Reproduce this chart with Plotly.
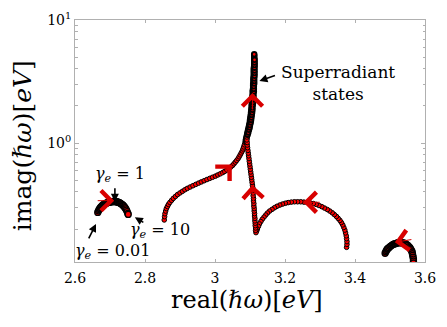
import math
import plotly.graph_objects as go

# ---------------- data ----------------
# small arc near 2.7 eV (gamma_e from 0.01 to 10)
arc1_x = [2.665, 2.667, 2.669, 2.671, 2.673, 2.675, 2.677, 2.679, 2.681, 2.683,
          2.685, 2.687, 2.689, 2.691, 2.693, 2.695, 2.697, 2.699, 2.701, 2.703,
          2.705, 2.707, 2.709, 2.711, 2.713, 2.715, 2.717, 2.719, 2.721, 2.723,
          2.725, 2.727, 2.729, 2.731, 2.733, 2.735, 2.737, 2.739, 2.741, 2.743,
          2.745, 2.747, 2.749, 2.751, 2.752]
arc1_y = [0.273, 0.281, 0.288, 0.294, 0.299, 0.304, 0.308, 0.312, 0.315, 0.318,
          0.320, 0.322, 0.324, 0.326, 0.328, 0.329, 0.330, 0.331, 0.332, 0.333,
          0.334, 0.334, 0.335, 0.335, 0.335, 0.334, 0.334, 0.333, 0.332, 0.331,
          0.329, 0.327, 0.325, 0.322, 0.319, 0.316, 0.312, 0.308, 0.303, 0.298,
          0.292, 0.285, 0.277, 0.268, 0.263]

# branch starting at 2.855 eV rising into the superradiant state
branch2_x = [2.855, 2.856, 2.857, 2.859, 2.861, 2.864, 2.867, 2.871, 2.876, 2.881,
             2.887, 2.893, 2.900, 2.907, 2.914, 2.921, 2.929, 2.937, 2.945, 2.953,
             2.961, 2.969, 2.977, 2.985, 2.993, 3.001, 3.008, 3.015, 3.022, 3.028,
             3.034, 3.040, 3.045, 3.050, 3.054, 3.058, 3.062, 3.066, 3.069, 3.072,
             3.075, 3.078, 3.080, 3.082, 3.084, 3.086, 3.088,
             3.088, 3.089, 3.090, 3.091, 3.092, 3.093, 3.094, 3.095, 3.096, 3.097,
             3.098, 3.099, 3.100, 3.100, 3.101, 3.102, 3.102, 3.103, 3.103, 3.104,
             3.104, 3.105, 3.105, 3.105, 3.106, 3.106, 3.107, 3.107, 3.107, 3.108,
             3.108, 3.108, 3.108, 3.109, 3.109, 3.109, 3.109, 3.110, 3.110, 3.110,
             3.110, 3.111, 3.111, 3.111, 3.111, 3.111, 3.111, 3.112, 3.112, 3.112,
             3.112, 3.112, 3.112, 3.112, 3.112, 3.112]
branch2_y = [0.237, 0.252, 0.266, 0.280, 0.293, 0.305, 0.317, 0.329, 0.342, 0.355,
             0.368, 0.381, 0.393, 0.405, 0.417, 0.428, 0.439, 0.450, 0.461, 0.472,
             0.483, 0.494, 0.505, 0.516, 0.527, 0.538, 0.550, 0.562, 0.575, 0.589,
             0.604, 0.620, 0.638, 0.657, 0.677, 0.699, 0.722, 0.747, 0.773, 0.801,
             0.831, 0.862, 0.895, 0.930, 0.968, 1.01, 1.03,
             1.05, 1.08, 1.11, 1.14, 1.18, 1.21, 1.25, 1.28, 1.32, 1.36,
             1.40, 1.44, 1.49, 1.53, 1.58, 1.62, 1.67, 1.72, 1.77, 1.83,
             1.88, 1.94, 2.00, 2.06, 2.12, 2.18, 2.25, 2.32, 2.39, 2.46,
             2.53, 2.61, 2.69, 2.77, 2.85, 2.94, 3.02, 3.11, 3.21, 3.30,
             3.40, 3.51, 3.61, 3.72, 3.83, 3.95, 4.07, 4.19, 4.31, 4.44,
             4.58, 4.71, 4.86, 5.00, 5.15, 5.26]

# arc between 3.12 and 3.38 eV, then the rising branch at 3.11 eV
branch3_x = [3.376, 3.377, 3.377, 3.376, 3.375, 3.373, 3.371, 3.368, 3.365, 3.361,
             3.357, 3.352, 3.347, 3.341, 3.335, 3.328, 3.321, 3.313, 3.305, 3.297,
             3.289, 3.281, 3.272, 3.263, 3.254, 3.245, 3.236, 3.227, 3.218, 3.209,
             3.201, 3.193, 3.185, 3.177, 3.170, 3.163, 3.156, 3.150, 3.145, 3.140,
             3.135, 3.131, 3.127, 3.124, 3.121, 3.119, 3.117,
             3.116, 3.116, 3.115, 3.115, 3.114, 3.114, 3.113, 3.113, 3.112, 3.112,
             3.111, 3.111, 3.110, 3.110, 3.109, 3.109, 3.108, 3.108, 3.107, 3.106,
             3.105, 3.104, 3.103, 3.102, 3.101, 3.100, 3.099, 3.098, 3.097, 3.096,
             3.095, 3.094, 3.093, 3.092, 3.092, 3.091, 3.091,
             3.093, 3.095, 3.097, 3.099, 3.100, 3.102, 3.103, 3.104, 3.105, 3.106,
             3.107, 3.107, 3.108, 3.109, 3.109, 3.110, 3.110, 3.111, 3.111, 3.111,
             3.112, 3.112, 3.112, 3.113, 3.113, 3.113, 3.113, 3.113, 3.113, 3.113]
branch3_y = [0.142, 0.150, 0.158, 0.167, 0.176, 0.186, 0.196, 0.206, 0.216, 0.226,
             0.235, 0.244, 0.253, 0.262, 0.271, 0.280, 0.288, 0.296, 0.304, 0.311,
             0.317, 0.322, 0.326, 0.329, 0.331, 0.333, 0.333, 0.333, 0.331, 0.328,
             0.324, 0.319, 0.313, 0.306, 0.298, 0.289, 0.280, 0.270, 0.260, 0.250,
             0.240, 0.230, 0.220, 0.210, 0.200, 0.193, 0.187,
             0.195, 0.204, 0.213, 0.223, 0.233, 0.244, 0.255, 0.267, 0.280, 0.293,
             0.307, 0.322, 0.338, 0.355, 0.373, 0.392, 0.412, 0.433, 0.455, 0.478,
             0.502, 0.527, 0.554, 0.582, 0.612, 0.643, 0.676, 0.711, 0.748, 0.787,
             0.828, 0.871, 0.916, 0.963, 1.01, 1.06, 1.12,
             1.17, 1.22, 1.28, 1.34, 1.40, 1.47, 1.54, 1.61, 1.69, 1.77,
             1.86, 1.95, 2.05, 2.15, 2.26, 2.37, 2.49, 2.62, 2.75, 2.89,
             3.04, 3.19, 3.35, 3.52, 3.70, 3.89, 4.09, 4.30, 4.52, 4.75]

# small arc near 3.5 eV
arc4_x = [3.486, 3.488, 3.490, 3.492, 3.494, 3.497, 3.500, 3.503, 3.506, 3.509,
          3.512, 3.515, 3.518, 3.521, 3.524, 3.527, 3.530, 3.533, 3.536, 3.539,
          3.542, 3.545, 3.548, 3.551, 3.554, 3.556, 3.558, 3.560, 3.562, 3.563,
          3.564, 3.565, 3.566, 3.567, 3.567, 3.567]
arc4_y = [0.127, 0.131, 0.134, 0.137, 0.139, 0.141, 0.144, 0.146, 0.148, 0.150,
          0.151, 0.152, 0.153, 0.154, 0.155, 0.155, 0.155, 0.155, 0.154, 0.154,
          0.153, 0.151, 0.149, 0.147, 0.144, 0.142, 0.139, 0.136, 0.133, 0.130,
          0.126, 0.122, 0.118, 0.114, 0.110, 0.106]

# red direction arrows (tip positions)
arrow_x = [2.712, 3.048, 3.107, 3.107, 3.252, 3.514]
arrow_y = [0.340, 0.670, 2.55, 0.456, 0.330, 0.156]

# axis ticks
x_ticks = [2.6, 2.8, 3.0, 3.2, 3.4, 3.6]
x_ticktext = ["2.6", "2.8", "3", "3.2", "3.4", "3.6"]
y_ticks = [1, 10]
y_ticktext = ["10<sup>0</sup>", "10<sup>1</sup>"]
y_minor = [0.2, 0.3, 0.4, 0.5, 0.6, 0.7, 0.8, 0.9, 2, 3, 4, 5, 6, 7, 8, 9]

# text labels
x_label = "real(<i>ℏω</i>)[<i>eV</i>]"
y_label = "imag(<i>ℏω</i>)[<i>eV</i>]"
gamma_labels = ["<i>γ<sub>e</sub></i> = 1", "<i>γ<sub>e</sub></i> = 10", "<i>γ<sub>e</sub></i> = 0.01"]
gamma_label_x = [2.729, 2.842, 2.706]
gamma_label_y = [0.55, 0.193, 0.132]
gamma_tip_x = [2.714, 2.771, 2.660]
gamma_tip_y = [0.333, 0.249, 0.220]
super_label = "Superradiant<br>states"
super_label_xy = (3.351, 3.07)
super_tip_xy = (3.127, 3.19)

# ---------------- styles ----------------
FONT = "DejaVu Serif"
AX_COL = "#b0b0b0"
RED = "#ff0000"
L = math.log10  # annotations on a log axis take log10 positions


def edge_widths(ys, dense_from):
    # thicker marker edges where the eigenvalue trace is densely sampled
    return [1.9 if y >= dense_from else 1.0 for y in ys]


fig = go.Figure()
traces = [
    (arc1_x, arc1_y, 6, 1.35),
    (branch2_x, branch2_y, 4.6, edge_widths(branch2_y, 1.04)),
    (branch3_x, branch3_y, 4.6, edge_widths(branch3_y, 1.13)),
    (arc4_x, arc4_y, 6, 1.35),
]
for xs, ys, sz, lw in traces:
    fig.add_trace(go.Scatter(x=xs, y=ys, mode="markers",
                             marker=dict(size=sz, color=RED,
                                         line=dict(color="black", width=lw)),
                             showlegend=False, hoverinfo="skip"))

annotations = []
arrow_ax = [-18, -13, 0, 1, 18, 18]
arrow_ay = [0, 13, 18, 18, 0, -3]
for ax_, ay_, x, y in zip(arrow_ax, arrow_ay, arrow_x, arrow_y):
    annotations.append(dict(x=x, y=L(y), xref="x", yref="y", text="", showarrow=True,
                            ax=ax_, ay=ay_, arrowhead=4, arrowsize=3.9, arrowwidth=1,
                            arrowcolor="#d80000", standoff=0))

g_ax = [0, 10, -8]
g_ay = [-15, 6, 16]
for t, lx, ly, tx, ty, ax_, ay_ in zip(gamma_labels, gamma_label_x, gamma_label_y,
                                       gamma_tip_x, gamma_tip_y, g_ax, g_ay):
    annotations.append(dict(x=lx, y=L(ly), xref="x", yref="y", text=t, showarrow=False,
                            font=dict(family=FONT, size=16, color="black")))
    annotations.append(dict(x=tx, y=L(ty), xref="x", yref="y", text="", showarrow=True,
                            ax=ax_, ay=ay_, arrowhead=2, arrowsize=1, arrowwidth=1.6,
                            arrowcolor="black", standoff=0))

annotations.append(dict(x=super_label_xy[0], y=L(super_label_xy[1]), xref="x", yref="y",
                        text=super_label, showarrow=False, align="center",
                        font=dict(family=FONT, size=17, color="black")))
annotations.append(dict(x=super_tip_xy[0], y=L(super_tip_xy[1]), xref="x", yref="y",
                        text="", showarrow=True,
                        ax=17, ay=-6, arrowhead=2, arrowsize=1, arrowwidth=1.6,
                        arrowcolor="black", standoff=0))

annotations.append(dict(x=0.491, y=-0.158, xref="paper", yref="paper", text=x_label,
                        showarrow=False, yanchor="middle",
                        font=dict(family=FONT, size=24, color="black")))
annotations.append(dict(x=-0.151, y=0.479, xref="paper", yref="paper", text=y_label,
                        showarrow=False, textangle=-90, xanchor="center",
                        font=dict(family=FONT, size=25, color="black")))

# the page body adds an 8 px offset, so the figure is laid out 8 px up/left
fig.update_layout(
    width=439, height=319,
    margin=dict(l=67, r=22, t=12, b=65, autoexpand=False),
    paper_bgcolor="white", plot_bgcolor="white",
    annotations=annotations,
    xaxis=dict(range=[2.6, 3.6], tickmode="array", tickvals=x_ticks, ticktext=x_ticktext,
               showline=True, linecolor=AX_COL, linewidth=1, mirror="ticks",
               ticks="inside", ticklen=3, tickcolor=AX_COL, showgrid=False, zeroline=False,
               ticklabelstandoff=3,
               tickfont=dict(family=FONT, size=14, color="black")),
    yaxis=dict(type="log", range=[-0.967, 1], tickmode="array", tickvals=y_ticks,
               ticktext=y_ticktext, showline=True, linecolor=AX_COL, linewidth=1,
               mirror="ticks", ticks="inside", ticklen=4, tickcolor=AX_COL,
               showgrid=False, zeroline=False,
               minor=dict(tickmode="array", tickvals=y_minor, ticks="inside", ticklen=2.5,
                          tickcolor=AX_COL, showgrid=False),
               tickfont=dict(family=FONT, size=14, color="black")),
)

fig.write_html("out.html")
